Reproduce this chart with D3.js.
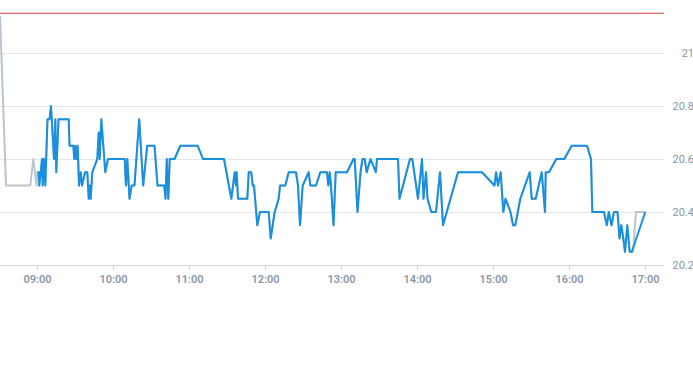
<!DOCTYPE html>
<html>
<head>
    <meta charset="utf-8">
    <title>Temperature</title>
    <script src="https://d3js.org/d3.v7.min.js"></script>
    <style>
        body { margin: 0; background: #fff; }
        text { font-family: Roboto, "Open Sans", sans-serif; }
    </style>
</head>
<body>
    <script>
        // readings (time of day, value)
        var blueTimes = ["09:00:14","09:01:20","09:01:49","09:02:55","09:03:57","09:04:30","09:05:32","09:06:33",
            "09:08:17","09:09:52","09:11:03","09:12:14","09:13:25","09:14:27","09:15:14","09:16:58","09:25:02",
            "09:25:40","09:28:40","09:29:27","09:30:14","09:31:02","09:32:08","09:33:09","09:34:30","09:35:32",
            "09:37:54","09:39:43","09:40:49","09:41:36","09:42:24","09:43:39","09:47:36","09:48:43","09:49:30",
            "09:50:46","09:53:55","09:56:03","10:09:14","10:10:16","10:11:17","10:13:02","10:14:46","10:16:58",
            "10:20:41","10:23:50","10:27:00","10:32:46","10:35:08","10:40:25","10:41:27","10:42:28","10:43:39",
            "10:44:46","10:48:33","10:53:08","11:06:52","11:11:03","11:27:38","11:33:24","11:36:05","11:37:06",
            "11:37:39","11:38:41","11:46:02","11:47:08","11:49:11","11:50:17","11:51:19","11:53:55","11:56:03",
            "12:02:55","12:04:30","12:07:39","12:10:49","12:11:51","12:16:02","12:18:43","12:24:28","12:26:03",
            "12:27:38","12:29:46","12:34:30","12:35:46","12:40:16","12:43:39","12:48:57","12:49:58","12:51:05",
            "12:52:06","12:54:05","12:55:49","13:04:44","13:09:52","13:10:49","13:13:02","13:15:24","13:16:58",
            "13:18:43","13:20:17","13:23:17","13:27:28","13:28:25","13:45:00","13:46:11","13:54:28","13:56:17",
            "14:00:47","14:03:57","14:05:08","14:07:07","14:08:17","14:11:17","14:15:00","14:18:09","14:20:32",
            "14:32:22","14:51:19","15:01:11","15:02:22","15:03:57","15:06:05","15:08:08","15:09:52","15:13:49",
            "15:15:47","15:17:37","15:21:33","15:28:58","15:30:33","15:33:43","15:38:27","15:41:03","15:41:37",
            "15:44:13","15:49:58","15:56:17","16:02:08","16:14:13","16:17:22","16:18:23","16:27:38","16:29:50",
            "16:31:25","16:33:33","16:35:32","16:38:17","16:39:52","16:41:17","16:42:52","16:44:13","16:46:02",
            "16:47:55","16:49:35","17:00:14"];
        var blueValues = [20.55,20.55,20.5,20.55,20.6,20.5,20.6,20.5,
            20.75,20.75,20.8,20.7,20.6,20.75,20.55,20.75,20.75,
            20.65,20.65,20.6,20.65,20.6,20.65,20.5,20.55,20.5,
            20.55,20.55,20.45,20.5,20.45,20.55,20.6,20.7,20.6,
            20.75,20.55,20.6,20.6,20.5,20.6,20.45,20.5,20.5,
            20.75,20.5,20.65,20.65,20.5,20.5,20.45,20.6,20.45,
            20.6,20.6,20.65,20.65,20.6,20.6,20.45,20.55,20.5,
            20.55,20.45,20.45,20.55,20.55,20.5,20.5,20.35,20.4,
            20.4,20.3,20.4,20.45,20.5,20.5,20.55,20.55,20.5,
            20.35,20.5,20.55,20.5,20.5,20.55,20.55,20.5,20.55,
            20.5,20.35,20.55,20.55,20.6,20.6,20.4,20.55,20.6,
            20.6,20.55,20.6,20.55,20.6,20.6,20.45,20.6,20.6,
            20.45,20.6,20.45,20.55,20.45,20.4,20.4,20.55,20.35,
            20.55,20.55,20.5,20.55,20.5,20.55,20.4,20.45,20.4,
            20.35,20.35,20.45,20.55,20.45,20.45,20.55,20.4,20.55,
            20.55,20.6,20.6,20.65,20.65,20.6,20.4,20.4,20.35,
            20.4,20.35,20.4,20.4,20.3,20.35,20.3,20.25,20.35,
            20.25,20.25,20.4];

        // grey series: earlier readings before 09:00 and a slightly different tail
        var greyHeadTimes = ["08:30:47","08:35:32","08:54:43","08:57:05","08:59:37"];
        var greyHeadValues = [21.14,20.5,20.5,20.6,20.5];
        var greyTailTimes = ["16:50:32","16:52:53","17:00:14"];
        var greyTailValues = [20.25,20.4,20.4];

        var thresholdValue = 21.15;
        var yTicks = [20.2, 20.4, 20.6, 20.8, 21];
        var domainStart = "08:30:47", domainEnd = "17:15:00";

        var width = 693, height = 365;
        var plotLeft = 0, plotRight = 664, plotTop = 0, plotBottom = 265;

        var parse = d3.timeParse("%H:%M:%S");

        function pairs(times, values) {
            return times.map(function(t, i) { return { t: parse(t), v: values[i] }; });
        }

        var blue = pairs(blueTimes, blueValues);
        var grey = pairs(greyHeadTimes, greyHeadValues)
            .concat(blue.slice(0, blue.length - 1))
            .concat(pairs(greyTailTimes, greyTailValues));

        var x = d3.scaleTime()
            .domain([parse(domainStart), parse(domainEnd)])
            .range([plotLeft, plotRight]);

        var y = d3.scaleLinear()
            .domain([20.2, 21.2])
            .range([plotBottom, plotTop]);

        var svg = d3.select("body").append("svg")
            .attr("width", width)
            .attr("height", height);

        // horizontal grid + right labels
        var yAxis = svg.append("g")
            .attr("transform", "translate(" + plotRight + ",0)")
            .call(d3.axisRight(y).tickValues(yTicks).tickSize(-(plotRight - plotLeft)).tickPadding(9)
                .tickFormat(function(d) { return d === 21 ? "21" : d3.format(".1f")(d); }));
        yAxis.select(".domain").remove();
        yAxis.selectAll(".tick line").attr("stroke", "#e3e6ea");
        yAxis.selectAll(".tick text")
            .attr("fill", "#8a96a3")
            .style("font-size", "11px")
            .attr("text-anchor", "end")
            .attr("x", 30);

        // x axis
        var xAxis = svg.append("g")
            .attr("transform", "translate(0," + plotBottom + ")")
            .call(d3.axisBottom(x).ticks(d3.timeHour.every(1)).tickSize(5).tickPadding(5)
                .tickFormat(d3.timeFormat("%H:%M")));
        xAxis.select(".domain")
            .attr("stroke", "#cfd4da")
            .attr("d", "M" + plotLeft + ",0.5H" + plotRight);
        xAxis.selectAll(".tick line").attr("stroke", "#cfd4da");
        xAxis.selectAll(".tick text")
            .attr("fill", "#8a96a3")
            .style("font-size", "11px")
            .style("font-weight", "600");

        svg.append("defs").append("clipPath").attr("id", "clip")
            .append("rect").attr("x", plotLeft).attr("y", plotTop)
            .attr("width", plotRight - plotLeft).attr("height", plotBottom - plotTop);

        // threshold
        svg.append("line")
            .attr("x1", plotLeft).attr("x2", plotRight)
            .attr("y1", y(thresholdValue)).attr("y2", y(thresholdValue))
            .attr("stroke", "#c9413a")
            .attr("stroke-width", 1);

        var line = d3.line()
            .x(function(d) { return x(d.t); })
            .y(function(d) { return y(d.v); });

        var lines = svg.append("g").attr("clip-path", "url(#clip)");

        lines.append("path")
            .datum(grey)
            .attr("fill", "none")
            .attr("stroke", "#bcc4cc")
            .attr("stroke-width", 2)
            .attr("stroke-linejoin", "round")
            .attr("d", line);

        lines.append("path")
            .datum(blue)
            .attr("fill", "none")
            .attr("stroke", "#1890e0")
            .attr("stroke-width", 2)
            .attr("stroke-linejoin", "round")
            .attr("d", line);
    </script>
</body>
</html>
